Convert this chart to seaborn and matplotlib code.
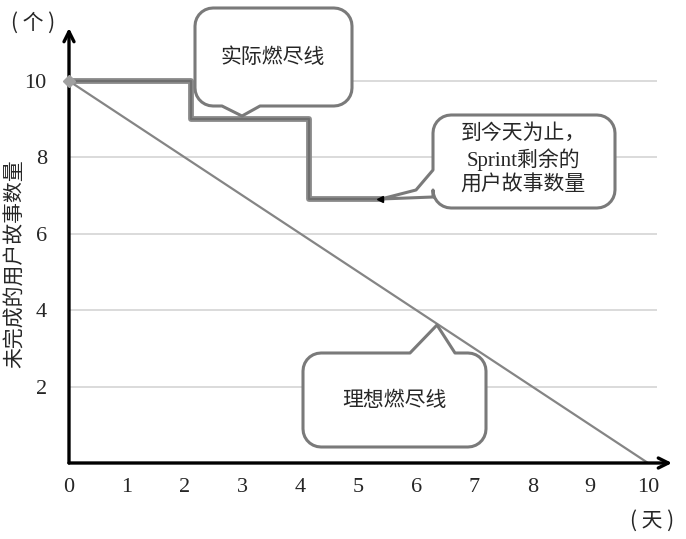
import matplotlib
matplotlib.use("Agg")
import matplotlib.pyplot as plt
from matplotlib.patches import Polygon
from matplotlib.transforms import Affine2D, IdentityTransform
import numpy as np
import pandas as pd
import seaborn as sns

# data
days_ticks = list(range(0, 11))
count_ticks = [2, 4, 6, 8, 10]
actual_days = [0, 2.1, 4.15, 5.4]
actual_left = [10, 9, 6.9, 6.9]
ideal_days = [0, 10]
ideal_left = [10, 0]

sns.set_style("white")
plt.rcParams['font.family'] = ['Liberation Serif', 'Noto Sans CJK SC', 'DejaVu Sans']
cjk = ['Noto Sans CJK SC', 'DejaVu Sans']

W, H = 686, 539
fig = plt.figure(figsize=(W / 100, H / 100), dpi=100)
ax = fig.add_axes([69 / W, (H - 463) / H, 603 / W, 435 / H])
ax.set_xlim(0, 603 / 57.9)
ax.set_ylim(0, 435 / 38.2)

df_actual = pd.DataFrame({'day': actual_days, 'left': actual_left})
df_ideal = pd.DataFrame({'day': ideal_days, 'left': ideal_left})

ax.hlines(count_ticks, 0, 10.15, color='#d4d4d4', lw=1.2, zorder=0)
sns.lineplot(data=df_ideal, x='day', y='left', ax=ax, color='#858585', lw=1.6, zorder=2)
sns.lineplot(data=df_actual, x='day', y='left', ax=ax, color='#8c8c8c', lw=4.2,
             drawstyle='steps-post', zorder=3)
sns.lineplot(data=df_actual, x='day', y='left', ax=ax, color='#6f6f6f', lw=1.6,
             drawstyle='steps-post', zorder=3)
ax.plot([0], [10], marker='D', ms=6, color='#a0a0a0', zorder=4, clip_on=False)

for s in ax.spines.values():
    s.set_visible(False)
ax.annotate('', xy=(1.0, 0), xytext=(0, 0), xycoords='axes fraction',
            arrowprops=dict(arrowstyle='->', lw=2.4, color='black', mutation_scale=18,
                            shrinkA=0, shrinkB=0))
ax.annotate('', xy=(0, 1.0), xytext=(0, 0), xycoords='axes fraction',
            arrowprops=dict(arrowstyle='->', lw=2.4, color='black', mutation_scale=18,
                            shrinkA=0, shrinkB=0))

ax.set_xticks(days_ticks)
ax.set_xticklabels([str(d) for d in days_ticks])
ax.set_yticks(count_ticks)
ax.set_yticklabels([str(c) for c in count_ticks])
ax.tick_params(axis='x', length=0, pad=11, labelsize=16)
ax.tick_params(axis='y', length=0, pad=16, labelsize=16)
ax.set_xlabel('')
ax.set_ylabel('未完成的用户故事数量', fontsize=15, family=cjk, va='center')
ax.yaxis.set_label_coords(-(69 - 15) / 603, (463 - 264) / 435)

fig.text(33 / W, 1 - 23 / H, '( 个 )', fontsize=15, ha='center', va='center', family=cjk)
fig.text(652 / W, 1 - 521 / H, '( 天 )', fontsize=15, ha='center', va='center', family=cjk)

# callouts drawn in pixel coordinates (origin top-left)
px = Affine2D().scale(1, -1).translate(0, H)


def arc(cx, cy, r, a0, a1):
    t = np.radians(np.linspace(a0, a1, 8))
    return [(cx + r * np.cos(t_), cy - r * np.sin(t_)) for t_ in t]


def callout(x0, y0, x1, y1, r, side, tail):
    pts = []
    pts += arc(x0 + r, y0 + r, r, 180, 90)
    if side == 'top':
        pts += tail
    pts += arc(x1 - r, y0 + r, r, 90, 0)
    pts += arc(x1 - r, y1 - r, r, 0, -90)
    if side == 'bottom':
        pts += tail
    pts += arc(x0 + r, y1 - r, r, -90, -180)
    if side == 'left':
        pts += tail
    poly = Polygon(pts, closed=True, facecolor='white', edgecolor='#7a7a7a', lw=2.2,
                   transform=px, zorder=6, joinstyle='round')
    fig.add_artist(poly)


callout(195, 8, 352, 106, 18, 'bottom', [(260, 106), (242, 116), (222, 106)])
fig.text(273 / W, 1 - 57 / H, '实际燃尽线', fontsize=15, ha='center', va='center',
         zorder=7, family=cjk)

callout(433, 115, 615, 208, 18, 'left', [(433, 197), (381, 199), (416, 190), (433, 170)])
fig.text(523 / W, 1 - 159 / H, '到今天为止，\nSprint剩余的\n用户故事数量', fontsize=15,
         ha='center', va='center', linespacing=1.25, zorder=7)
fig.add_artist(plt.Line2D([380], [H - 199], marker='<', ms=5, color='black',
                          transform=IdentityTransform(), zorder=8))

callout(303, 353, 486, 447, 18, 'top', [(410, 353), (437, 325), (455, 353)])
fig.text(394 / W, 1 - 400 / H, '理想燃尽线', fontsize=15, ha='center', va='center',
         zorder=7, family=cjk)

plt.savefig('out.png', dpi=100)
